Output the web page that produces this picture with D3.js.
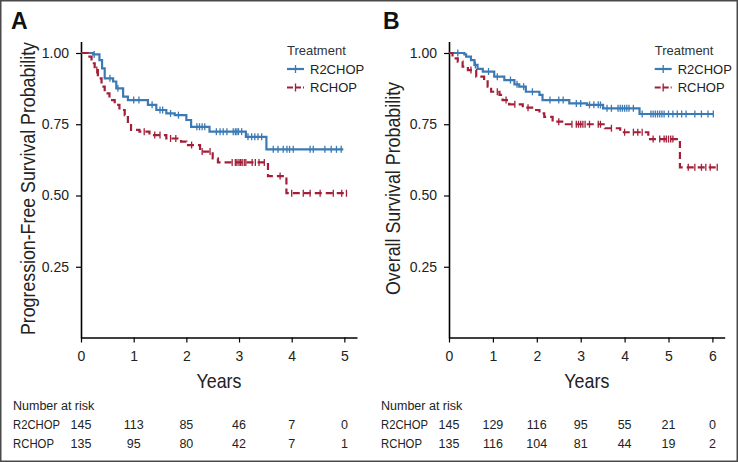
<!DOCTYPE html>
<html>
<head>
<meta charset="utf-8">
<script src="https://cdn.jsdelivr.net/npm/d3@7"></script>
<style>
  body { margin: 0; background: #fff; }
  svg { display: block; font-family: "Liberation Sans", Arial, sans-serif; }
</style>
</head>
<body>
<svg width="738" height="462"></svg>
<script>
// step points [years, survival], last point = end of follow-up
const pfsR2chop = [[0,1],[0.23,0.995],[0.35,0.975],[0.4,0.946],[0.45,0.911],[0.61,0.9],[0.67,0.876],[0.8,0.847],[0.89,0.835],
  [1.27,0.818],[1.43,0.8],[1.62,0.788],[1.78,0.782],[2.0,0.765],[2.09,0.741],[2.44,0.724],[3.13,0.706],[3.52,0.662],[4.98,0.662]];
const pfsRchop = [[0,1],[0.13,0.987],[0.2,0.964],[0.26,0.94],[0.32,0.911],[0.39,0.882],[0.45,0.858],[0.54,0.835],[0.64,0.818],
  [0.73,0.8],[0.83,0.782],[0.89,0.753],[0.95,0.73],[1.11,0.724],[1.3,0.712],[1.62,0.7],[1.9,0.689],[2.0,0.677],[2.26,0.654],
  [2.5,0.63],[2.6,0.616],[3.55,0.568],[3.9,0.508],[5.05,0.508]];
const osR2chop = [[0,1],[0.35,0.995],[0.39,0.987],[0.5,0.975],[0.58,0.958],[0.65,0.944],[0.77,0.935],[1.03,0.917],[1.26,0.905],
  [1.49,0.89],[1.6,0.882],[1.75,0.864],[2.06,0.853],[2.13,0.835],[2.74,0.823],[3.14,0.818],[3.51,0.806],[4.34,0.786],[6.02,0.786]];
const osRchop = [[0,1],[0.08,0.981],[0.2,0.97],[0.31,0.952],[0.43,0.94],[0.62,0.917],[0.8,0.905],[0.88,0.882],[0.96,0.864],
  [1.15,0.853],[1.22,0.835],[1.37,0.82],[1.68,0.808],[1.94,0.8],[2.06,0.788],[2.17,0.776],[2.36,0.759],[2.63,0.75],[3.55,0.736],
  [3.9,0.722],[4.54,0.698],[5.26,0.599],[6.11,0.599]];

// censor times (years)
const pfsR2chopCens = [0.25,0.55,0.7,1.0,1.1,1.35,1.5,1.55,1.7,1.85,2.2,2.25,2.3,2.35,2.57,2.64,2.7,2.77,2.89,2.93,2.96,2.99,3.05,
  3.17,3.24,3.3,3.36,3.43,3.65,3.74,3.84,3.91,3.96,4.03,4.35,4.41,4.63,4.75,4.85,4.94];
const pfsRchopCens = [0.3,1.2,1.4,1.5,1.7,1.8,2.1,2.3,2.45,2.87,2.93,2.96,3.0,3.03,3.06,3.1,3.13,3.25,3.31,3.38,3.48,3.78,
  4.0,4.22,4.35,4.54,4.79,4.95,5.04];
const osR2chopCens = [0.2,0.6,0.9,1.1,1.4,1.55,1.7,1.9,2.3,2.5,2.6,2.9,3.0,3.2,3.3,3.4,3.45,3.6,3.7,3.85,3.9,3.95,4.0,4.05,4.1,
  4.2,4.4,4.6,4.65,4.7,4.75,4.8,4.85,4.9,5.0,5.1,5.2,5.3,5.4,5.6,5.75,5.9,6.02];
const osRchopCens = [0.5,1.1,1.3,1.5,1.8,2.5,2.8,2.9,2.95,3.0,3.05,3.1,3.2,3.4,3.45,3.7,4.0,4.2,4.3,4.4,4.65,4.8,4.9,4.95,5.0,5.05,5.1,
  5.45,5.6,5.75,5.85,5.95,6.11];

const pfsTicks = [0,1,2,3,4,5];
const pfsRiskR2chop = [145,113,85,46,7,0];
const pfsRiskRchop = [135,95,80,42,7,1];
const osTicks = [0,1,2,3,4,5,6];
const osRiskR2chop = [145,129,116,95,55,21,0];
const osRiskRchop = [135,116,104,81,44,19,2];

const yTicks = [0.25,0.5,0.75,1.0];
const groups = ["R2CHOP","RCHOP"];
const colors = {R2CHOP: "#3b7ab5", RCHOP: "#a31f38"};
const dashes = {R2CHOP: null, RCHOP: "7,4"};

const svg = d3.select("svg");

svg.append("rect").attr("x",0.75).attr("y",0.75).attr("width",736.5).attr("height",460.5)
  .attr("fill","#fff").attr("stroke","#4a4a4a").attr("stroke-width",1.5);

function survAt(curve, t) {
  let s = curve[0][1];
  for (const p of curve) { if (p[0] <= t) s = p[1]; }
  return s;
}

function panel(o) {
  const x = d3.scaleLinear().domain([0, o.xmax]).range([o.left, o.right]);
  const y = d3.scaleLinear().domain([0, 1.04]).range([338, 41.6]);
  const g = svg.append("g");

  g.append("text").text(o.letter).attr("x", o.letterX).attr("y", 29)
    .attr("font-size", 23).attr("font-weight", "bold").attr("fill", "#111");

  const yAx = g.append("g").attr("transform", `translate(${o.left},0)`)
    .call(d3.axisLeft(y).tickValues(yTicks).tickFormat(d3.format(".2f")).tickSize(5).tickPadding(7).tickSizeOuter(0));
  const xAx = g.append("g").attr("transform", "translate(0,337.5)")
    .call(d3.axisBottom(x).tickValues(o.ticks).tickFormat(d3.format("d")).tickSize(5).tickPadding(9).tickSizeOuter(0));
  [yAx, xAx].forEach(a => {
    a.selectAll("text").attr("font-size", 14).attr("fill", "#222");
    a.select(".domain").attr("stroke-width", 1.6);
    a.selectAll(".tick line").attr("stroke-width", 1.2);
  });

  // condensed titles: squeeze to the widths seen in the figure
  g.append("text").text(o.ylabel)
    .attr("transform", `translate(${o.yLabelX},188.5) rotate(-90)`)
    .attr("text-anchor", "middle").attr("font-size", 20).attr("fill", "#222")
    .attr("textLength", o.yLabelLen).attr("lengthAdjust", "spacingAndGlyphs");
  g.append("text").text("Years")
    .attr("x", (o.left + o.right) / 2).attr("y", 388)
    .attr("text-anchor", "middle").attr("font-size", 21).attr("fill", "#222")
    .attr("textLength", 45).attr("lengthAdjust", "spacingAndGlyphs");

  const line = d3.line().x(d => x(d[0])).y(d => y(d[1])).curve(d3.curveStepAfter);
  groups.forEach((k, i) => {
    const curve = o.curves[i];
    g.append("path").datum(curve).attr("d", line).attr("fill", "none")
      .attr("stroke", colors[k]).attr("stroke-width", 2.2).attr("stroke-dasharray", dashes[k]);
    g.append("g").selectAll("line").data(o.cens[i]).join("line")
      .attr("x1", d => x(d)).attr("x2", d => x(d))
      .attr("y1", d => y(survAt(curve, d)) - 3.5).attr("y2", d => y(survAt(curve, d)) + 3.5)
      .attr("stroke", colors[k]).attr("stroke-width", 1.3);
  });

  // legend
  const lx = o.right - 70;
  g.append("text").text("Treatment").attr("x", lx).attr("y", 55).attr("font-size", 13).attr("fill", "#333");
  groups.forEach((k, i) => {
    const yy = 69 + i * 18.5;
    g.append("line").attr("x1", lx).attr("x2", lx + 17).attr("y1", yy).attr("y2", yy)
      .attr("stroke", colors[k]).attr("stroke-width", 2.2).attr("stroke-dasharray", dashes[k] ? "6,2" : null);
    g.append("line").attr("x1", lx + 8.5).attr("x2", lx + 8.5).attr("y1", yy - 4).attr("y2", yy + 4)
      .attr("stroke", colors[k]).attr("stroke-width", 1.3);
    g.append("text").text(k).attr("x", lx + 23).attr("y", yy + 4.5).attr("font-size", 13).attr("fill", "#222");
  });

  // number at risk
  g.append("text").text("Number at risk").attr("x", o.tableX).attr("y", 410).attr("font-size", 12.5).attr("fill", "#222");
  [o.riskR2chop, o.riskRchop].forEach((row, i) => {
    const yy = 429 + i * 18.5;
    g.append("text").text(groups[i]).attr("x", o.tableX).attr("y", yy).attr("font-size", 12.5).attr("fill", "#222")
      .attr("textLength", i === 0 ? 47 : 41).attr("lengthAdjust", "spacingAndGlyphs");
    g.append("g").selectAll("text").data(row).join("text")
      .attr("x", (d, j) => x(o.ticks[j])).attr("y", yy)
      .attr("text-anchor", "middle").attr("font-size", 12.5).attr("fill", "#222")
      .text(d => d);
  });
}

panel({letter: "A", letterX: 11, left: 81, right: 357, xmax: 5.24, ticks: pfsTicks,
  ylabel: "Progression-Free Survival Probability", yLabelX: 35, yLabelLen: 293, tableX: 13,
  curves: [pfsR2chop, pfsRchop], cens: [pfsR2chopCens, pfsRchopCens],
  riskR2chop: pfsRiskR2chop, riskRchop: pfsRiskRchop});

panel({letter: "B", letterX: 383, left: 449, right: 724.7, xmax: 6.28, ticks: osTicks,
  ylabel: "Overall Survival Probability", yLabelX: 400, yLabelLen: 213, tableX: 381,
  curves: [osR2chop, osRchop], cens: [osR2chopCens, osRchopCens],
  riskR2chop: osRiskR2chop, riskRchop: osRiskRchop});
</script>
</body>
</html>
